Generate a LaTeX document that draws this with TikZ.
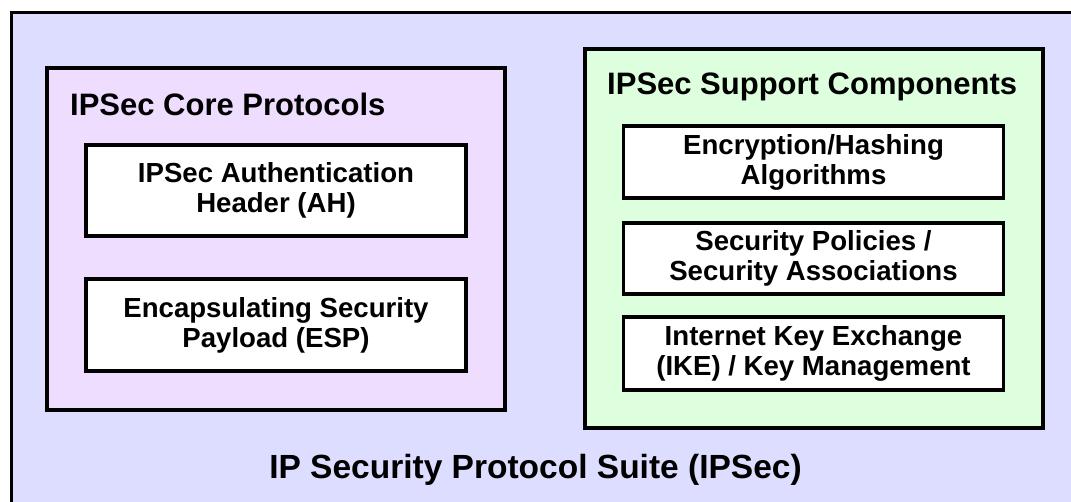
\documentclass[tikz,border=0pt]{standalone}
\usepackage{fontspec}
\setmainfont{Liberation Sans}
\usetikzlibrary{positioning}
\definecolor{suitefill}{HTML}{DDDDFF}
\definecolor{corefill}{HTML}{EEDDFF}
\definecolor{supportfill}{HTML}{DDFFDD}
\tikzset{
    groupbox/.style={draw, line width=3.2pt, inner sep=0pt},
    partbox/.style={draw, line width=3.2pt, fill=white, inner sep=0pt,
        minimum width=380pt, align=center,
        font=\bfseries\fontsize{27.6}{30}\selectfont},
    grouptitle/.style={inner sep=0pt, anchor=base west,
        font=\bfseries\fontsize{31}{36}\selectfont}
}

\begin{document}
\begin{tikzpicture}[x=1pt, y=-1pt]
\useasboundingbox (0,0) rectangle (1071,501);
\clip (0,0) rectangle (1071,501);
\fill[white] (0,0) rectangle (1071,501);
\node[groupbox, fill=suitefill, minimum width=1090pt, minimum height=510pt, anchor=north west] (suite) at (9.5,10.5) {};
\node[groupbox, fill=corefill, minimum width=458pt, minimum height=342pt] (core) at (276,239) {};
\node[groupbox, fill=supportfill, minimum width=458pt, minimum height=379pt] (support) at (814,238.5) {};
\node[grouptitle] (coretitle) at (70,115) {IPSec Core Protocols};
\node[grouptitle] (supporttitle) at (607,94) {IPSec Support Components};
\node[partbox, minimum height=91pt] (ah) at (276,190.5) {IPSec Authentication\\Header (AH)};
\node[partbox, minimum height=92pt] (esp) at (276,325) {Encapsulating Security\\Payload (ESP)};
\node[partbox, minimum height=72pt] (crypto) at (813.5,162) {Encryption/Hashing\\Algorithms};
\node[partbox, minimum height=71pt] (policy) at (813.5,258.5) {Security Policies /\\Security Associations};
\node[partbox, minimum height=73pt] (ike) at (813.5,353.5) {Internet Key Exchange\\(IKE) / Key Management};
\node[inner sep=0pt, anchor=base, font=\bfseries\fontsize{33.5}{38}\selectfont] (suitetitle) at (535.5,478) {IP Security Protocol Suite (IPSec)};
\end{tikzpicture}
\end{document}
